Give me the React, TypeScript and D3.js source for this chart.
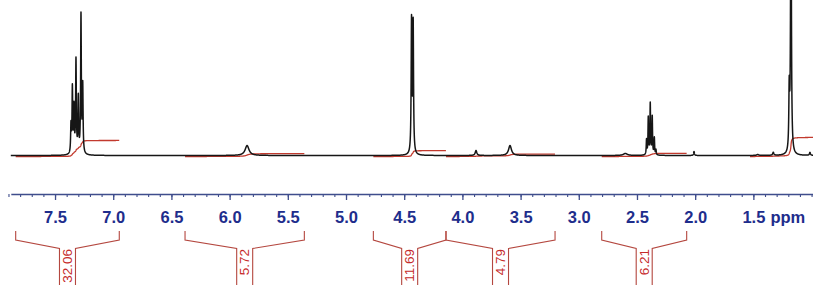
import React, { useEffect, useRef } from "react";
import * as d3 from "d3";

const WIDTH = 813;
const HEIGHT = 285;

// visible chemical shift window, left edge to right edge (ppm)
const ppmWindow = [7.88, 0.98];

// spectrum lines: [shift (ppm), height (% of plot), half width (ppm)]
const aromaticLines: [number, number, number][] = [
  [7.363, 18, 0.0035],
  [7.351, 41.8, 0.0035],
  [7.337, 29, 0.0035],
  [7.32, 59.8, 0.0035],
  [7.3, 35.4, 0.0035],
  [7.277, 88.7, 0.0035],
  [7.262, 43, 0.0035],
];
const olefinLines: [number, number, number][] = [[5.85, 6.4, 0.02]];
const methyleneLines: [number, number, number][] = [
  [4.437, 85, 0.0038],
  [4.423, 83, 0.0038],
  [3.883, 3.2, 0.008],
  [3.591, 6.4, 0.015],
];
const aliphaticLines: [number, number, number][] = [
  [2.6, 1.3, 0.02],
  [2.418, 9.6, 0.003],
  [2.403, 23.8, 0.003],
  [2.386, 32.8, 0.003],
  [2.369, 24.4, 0.003],
  [2.351, 10.9, 0.003],
  [2.337, 3.2, 0.003],
  [2.01, 2.6, 0.004],
  [1.463, 0.6, 0.01],
  [1.329, 1.9, 0.006],
  [1.192, 38.6, 0.004],
  [1.177, 193, 0.004],
  [1.014, 1.9, 0.005],
];

// integral regions (ppm) with their integral values; null label = not annotated
const integralFrom = [7.838, 6.383, 4.765, 4.141, 2.803, 1.529];
const integralTo = [6.948, 5.358, 4.141, 3.204, 2.073, 0.95];
const integralValues = [32.06, 5.72, 11.69, 4.79, 6.21, 38.5];
const integralLabels = ["32.06", "5.72", "11.69", "4.79", "6.21", null];

// axis
const majorTicks = [7.5, 7.0, 6.5, 6.0, 5.5, 5.0, 4.5, 4.0, 3.5, 3.0, 2.5, 2.0, 1.5];
const tickLabels = ["7.5", "7.0", "6.5", "6.0", "5.5", "5.0", "4.5", "4.0", "3.5", "3.0", "2.5", "2.0", "1.5"];
const unitLabel = "ppm";

const allLines = [...aromaticLines, ...olefinLines, ...methyleneLines, ...aliphaticLines];

// lorentzian sum
const intensity = (ppm: number) =>
  d3.sum(allLines, ([c, h, w]) => (h * w * w) / (w * w + (ppm - c) * (ppm - c)));

const App: React.FC = () => {
  const svgRef = useRef<SVGSVGElement | null>(null);

  useEffect(() => {
    const svg = d3.select(svgRef.current);
    svg.selectAll("*").remove();

    const baseY = 155.5;
    const axisY = 194;

    const x = d3.scaleLinear().domain(ppmWindow).range([10.8, 813.9]);
    const y = d3.scaleLinear().domain([0, 100]).range([baseY, 0]);
    // integral trace: 0.5 px per integral unit
    const yInt = d3.scaleLinear().domain([0, 100]).range([baseY + 1, baseY + 1 - 50]);

    // sample the spectrum
    const step = 0.0005;
    const samples: [number, number][] = d3
      .range(ppmWindow[0], ppmWindow[1], -step)
      .map((p) => [p, intensity(p)]);

    const line = d3
      .line<[number, number]>()
      .x((d) => x(d[0]))
      .y((d) => y(d[1]));

    // integral curves
    const intG = svg.append("g");
    integralFrom.forEach((from, i) => {
      const to = integralTo[i];
      const pts = d3.range(from, to, -step).map((p) => [p, intensity(p)] as [number, number]);
      let acc = 0;
      const cum = pts.map((d, k) => {
        if (k > 0) acc += (d[1] + pts[k - 1][1]) / 2;
        return acc;
      });
      const total = acc || 1;
      const curve = pts.map((d, k) => [d[0], (cum[k] / total) * integralValues[i]] as [number, number]);
      intG
        .append("path")
        .datum(curve)
        .attr("fill", "none")
        .attr("stroke", "#c23a2e")
        .attr("stroke-width", 1.3)
        .attr(
          "d",
          d3
            .line<[number, number]>()
            .x((d) => x(d[0]))
            .y((d) => yInt(d[1]))
        );
    });

    // spectrum
    svg
      .append("path")
      .datum(samples)
      .attr("fill", "none")
      .attr("stroke", "#161616")
      .attr("stroke-width", 1.5)
      .attr("stroke-linejoin", "round")
      .attr("d", line);

    // axis: minor ticks every 0.1 ppm
    const minor = d3.range(79, 9, -1).map((v) => v / 10);
    const axisColor = "#3f4d8c";
    const minorG = svg
      .append("g")
      .attr("transform", `translate(0, ${axisY})`)
      .call(d3.axisBottom(x).tickValues(minor).tickSize(3).tickSizeOuter(0).tickFormat(() => ""));
    minorG.select(".domain").attr("stroke", axisColor).attr("stroke-width", 1.4);
    minorG.selectAll(".tick line").attr("stroke", axisColor).attr("stroke-width", 1.1);

    const majorG = svg
      .append("g")
      .attr("transform", `translate(0, ${axisY})`)
      .call(
        d3
          .axisBottom(x)
          .tickValues(majorTicks)
          .tickSize(6)
          .tickSizeOuter(0)
          .tickFormat((d, i) => tickLabels[i])
      );
    majorG.select(".domain").remove();
    majorG.selectAll(".tick line").attr("stroke", axisColor).attr("stroke-width", 1.3);
    majorG
      .selectAll(".tick text")
      .attr("y", 29)
      .attr("dy", null)
      .attr("fill", "#1e2d8c")
      .attr("font-family", "'Liberation Sans', Arial, sans-serif")
      .attr("font-weight", "bold")
      .attr("font-size", 16.5);

    svg
      .append("text")
      .attr("x", x(1.5) + 17)
      .attr("y", axisY + 29)
      .attr("fill", "#1e2d8c")
      .attr("font-family", "'Liberation Sans', Arial, sans-serif")
      .attr("font-weight", "bold")
      .attr("font-size", 16.5)
      .text(unitLabel);

    // integral brackets below the axis
    const topY = 231;
    const bendY = 240;
    const boxY = 248.5;
    const boxW = 16;
    const brG = svg.append("g");
    integralLabels.forEach((label, i) => {
      if (!label) return;
      const x1 = x(integralFrom[i]);
      const x2 = x(integralTo[i]);
      const cx = (x1 + x2) / 2;
      const bx1 = cx - boxW / 2;
      const bx2 = cx + boxW / 2;
      brG
        .append("path")
        .attr(
          "d",
          `M${x1},${topY}V${bendY}L${bx1},${boxY}V${HEIGHT}M${bx2},${HEIGHT}V${boxY}L${x2},${bendY}V${topY}`
        )
        .attr("fill", "none")
        .attr("stroke", "#b4473f")
        .attr("stroke-width", 1.1);
      brG
        .append("text")
        .attr("transform", `translate(${cx + 4.8}, ${boxY + 0.5}) rotate(-90)`)
        .attr("text-anchor", "end")
        .attr("fill", "#c62b2b")
        .attr("font-family", "'Liberation Sans', Arial, sans-serif")
        .attr("font-size", 13.5)
        .text(label);
    });
  }, []);

  return (
    <svg
      ref={svgRef}
      width={WIDTH}
      height={HEIGHT}
      style={{ position: "absolute", left: 0, top: 0, display: "block", background: "#fff" }}
    />
  );
};

export default App;
